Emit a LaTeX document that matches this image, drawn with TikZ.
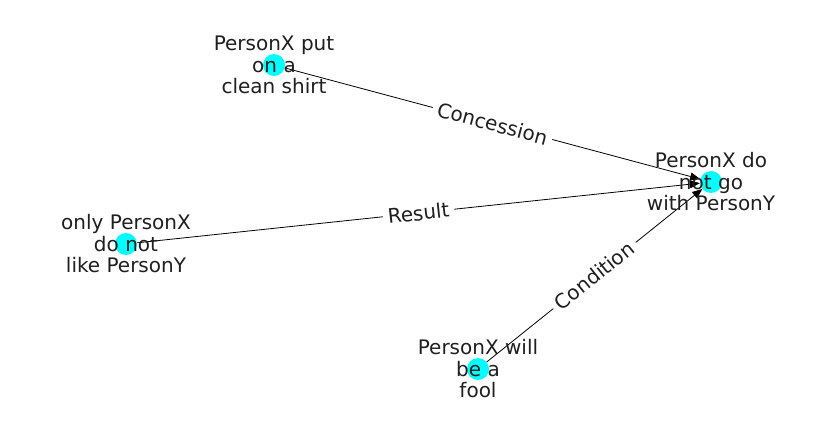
\documentclass[tikz,border=0pt]{standalone}
\usepackage{fontspec}
\setmainfont{DejaVu Sans}
\usetikzlibrary{arrows.meta}
\definecolor{aqua}{RGB}{0,255,255}
\begin{document}
\begin{tikzpicture}[x=1pt,y=1pt,
  dot/.style={circle,fill=aqua,minimum size=22pt,inner sep=0pt},
  lbl/.style={align=center,font=\fontsize{20}{21.5}\selectfont,text=black!88},
  edge/.style={draw=black,line width=0.8pt,-{Triangle[length=10pt,width=8pt]}},
  elbl/.style={sloped,fill=white,rounded corners=3pt,inner xsep=5pt,inner ysep=2pt,font=\fontsize{20}{22}\selectfont,text=black!88}]
\useasboundingbox (0,0) rectangle (837,434);
\node[dot] (a) at (274,369) {};
\node[dot] (t) at (711,252) {};
\node[dot] (b) at (126,190) {};
\node[dot] (c) at (478,65) {};
\draw[edge] (a) -- node[elbl] {Concession} (t);
\draw[edge] (b) -- node[elbl] {Result} (t);
\draw[edge] (c) -- node[elbl] {Condition} (t);
\node[lbl] (at) at (274,369) {PersonX put\\on a\\clean shirt};
\node[lbl] (tt) at (711,252) {PersonX do\\not go\\with PersonY};
\node[lbl] (bt) at (126,190) {only PersonX\\do not\\like PersonY};
\node[lbl] (ct) at (478,65) {PersonX will\\be a\\fool};
\end{tikzpicture}
\end{document}
